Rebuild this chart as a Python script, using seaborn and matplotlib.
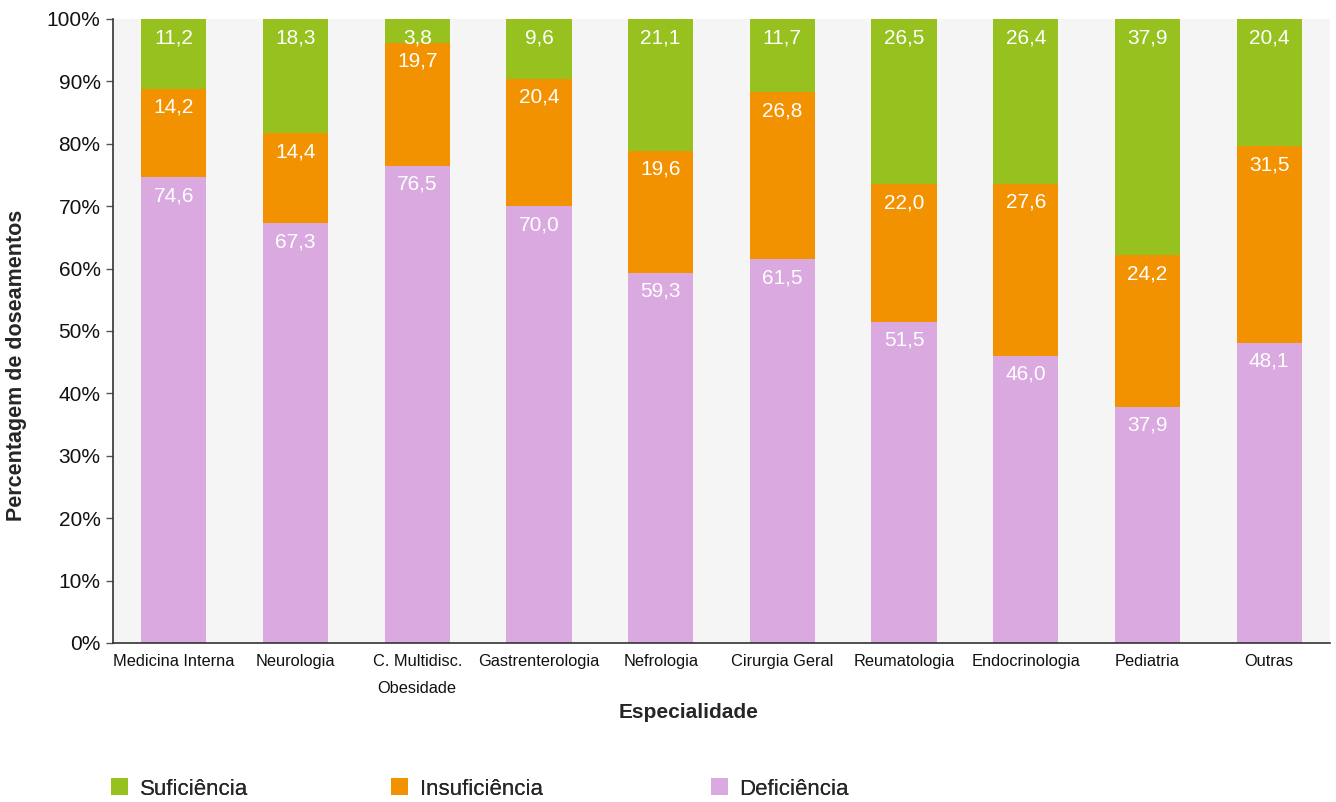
import matplotlib
matplotlib.use("Agg")
import matplotlib.pyplot as plt
import seaborn as sns
import numpy as np
import pandas as pd
from matplotlib.patches import Patch
from matplotlib.ticker import FuncFormatter

categories = ["Medicina Interna", "Neurologia", "C. Multidisc.\nObesidade", "Gastrenterologia",
              "Nefrologia", "Cirurgia Geral", "Reumatologia", "Endocrinologia", "Pediatria", "Outras"]
deficiencia = [74.6, 67.3, 76.5, 70.0, 59.3, 61.5, 51.5, 46.0, 37.9, 48.1]
insuficiencia = [14.2, 14.4, 19.7, 20.4, 19.6, 26.8, 22.0, 27.6, 24.2, 31.5]
suficiencia = [11.2, 18.3, 3.8, 9.6, 21.1, 11.7, 26.5, 26.4, 37.9, 20.4]
series_names = ["Suficiência", "Insuficiência", "Deficiência"]
colors = ["#96C11F", "#F39200", "#D9A9DF"]

sns.set_style("white")
plt.rcParams["font.family"] = ["Liberation Sans", "DejaVu Sans"]

df = pd.DataFrame({"cat": categories, "def": deficiencia, "ins": insuficiencia, "suf": suficiencia})
df["c_def"] = df["def"]
df["c_ins"] = df["def"] + df["ins"]
df["c_suf"] = df["def"] + df["ins"] + df["suf"]

fig = plt.figure(figsize=(13.36, 8.02), dpi=100)
ax = fig.add_axes([113/1336, 1-643/802, (1330-113)/1336, (643-19)/802])
ax.set_facecolor("#F5F5F5")

W = 0.535
for col, c in zip(["c_suf", "c_ins", "c_def"], colors):
    sns.barplot(data=df, x="cat", y=col, color=c, saturation=1, width=W, ax=ax, linewidth=0)

ax.set_ylim(0, 100)
ax.set_xlim(-0.5, len(categories) - 0.5)
ax.set_yticks(np.arange(0, 101, 10))
ax.yaxis.set_major_formatter(FuncFormatter(lambda v, p: f"{int(v)}%"))
ax.tick_params(axis="y", labelsize=15, length=5, width=1, color="#555555", pad=4, left=True,
               labelcolor="#111111")
ax.tick_params(axis="x", labelsize=11.8, length=0, pad=8, labelcolor="#111111")
for lab in ax.get_xticklabels():
    lab.set_linespacing(1.95)
    lab.set_verticalalignment("top")

for s in ["top", "right"]:
    ax.spines[s].set_visible(False)
for s in ["left", "bottom"]:
    ax.spines[s].set_color("#333333")
    ax.spines[s].set_linewidth(1.2)

ax.set_xlabel("Especialidade", fontsize=15, fontweight="bold", va="center")
ax.xaxis.set_label_coords((689-113)/1217, (643-712)/624)
ax.set_ylabel("Percentagem de doseamentos", fontsize=15.5, fontweight="bold", va="center")
ax.yaxis.set_label_coords((17-113)/1217, (643-365)/624)

def fmt(v):
    return f"{v:.1f}".replace(".", ",")

for i in range(len(categories)):
    tops = [df["c_suf"][i], df["c_ins"][i], df["c_def"][i]]
    vals = [suficiencia[i], insuficiencia[i], deficiencia[i]]
    for t, v in zip(tops, vals):
        ax.annotate(fmt(v), xy=(i, t), xytext=(0, -6.5), textcoords="offset points",
                    ha="center", va="top", color="white", fontsize=15)

leg_x = [104, 384, 704]
for name, c, lx in zip(series_names, colors, leg_x):
    leg = fig.legend([Patch(facecolor=c, edgecolor="none")], [name], loc="center left",
                     bbox_to_anchor=(lx/1336, 1-789/802), frameon=False, fontsize=16,
                     handlelength=0.8, handleheight=0.8, handletextpad=0.5, borderaxespad=0,
                     borderpad=0.3)
    fig.add_artist(leg)

fig.savefig("out.png", dpi=100)
